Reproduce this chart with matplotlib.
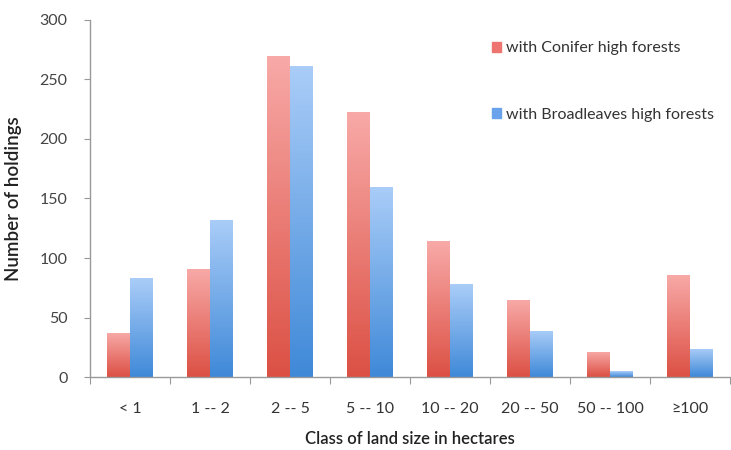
import matplotlib
matplotlib.use("Agg")
import matplotlib.pyplot as plt
import numpy as np
from matplotlib.colors import LinearSegmentedColormap
from matplotlib.patches import Patch

categories = ["< 1", "1 -- 2", "2 -- 5", "5 -- 10", "10 -- 20", "20 -- 50", "50 -- 100", "\u2265100"]
conifer = [37, 91, 270, 223, 114, 65, 21, 86]
broadleaves = [83, 132, 261, 160, 78, 39, 5, 24]

plt.rcParams['font.family'] = ['Lato', 'DejaVu Sans']

red_map = LinearSegmentedColormap.from_list("red", ["#dc5044", "#f8aaa8"])
blue_map = LinearSegmentedColormap.from_list("blue", ["#3f89d8", "#aacdf8"])

fig = plt.figure(figsize=(7.31, 4.5), dpi=100)
ax = fig.add_axes([0.123, 0.162, 0.876, 0.794])

x = np.arange(len(categories))
w = 0.285
grad = np.linspace(0, 1, 256).reshape(-1, 1)


def gradient_bars(xs, values, cmap):
    bars = ax.bar(xs, values, width=w, color="none", edgecolor="none")
    for b in bars:
        x0, y0 = b.get_x(), b.get_y()
        im = ax.imshow(grad, cmap=cmap, origin="lower", aspect="auto",
                       extent=[x0, x0 + b.get_width(), y0, y0 + b.get_height()],
                       zorder=2)
        im.set_clip_path(b)
    return bars


gradient_bars(x - w / 2, conifer, red_map)
gradient_bars(x + w / 2, broadleaves, blue_map)

ax.set_xlim(-0.5, len(categories) - 0.5)
ax.set_ylim(0, 300)
ax.set_yticks(range(0, 301, 50))

# ticks sit on category boundaries, labels at the centres
ax.set_xticks(np.arange(-0.5, len(categories), 1.0))
ax.set_xticklabels([])
ax.set_xticks(x, minor=True)
ax.set_xticklabels(categories, minor=True)
ax.tick_params(axis="x", which="minor", length=0, pad=18, labelsize=11.5, colors="#333333")
ax.tick_params(axis="x", which="major", length=5, direction="out", color="#999999")
ax.tick_params(axis="y", length=4, direction="out", color="#999999", labelsize=11.5,
               labelcolor="#444444", pad=12)

for s in ["top", "right"]:
    ax.spines[s].set_visible(False)
for s in ["left", "bottom"]:
    ax.spines[s].set_color("#999999")
    ax.spines[s].set_linewidth(1.0)

ax.set_xlabel("Class of land size in hectares", fontsize=12, fontweight="semibold",
              color="#222222", labelpad=11)
ax.set_ylabel("Number of holdings", fontsize=13.5, fontweight="semibold",
              color="#222222", labelpad=13)

handles = [Patch(color="#ee7470"), Patch(color="#6aa2ec")]
ax.legend(handles, ["with Conifer high forests", "with Broadleaves high forests"],
          loc="upper left", bbox_to_anchor=(0.605, 0.98), frameon=False,
          fontsize=11.5, handlelength=0.6, handleheight=0.6, handletextpad=0.3,
          labelspacing=3.3, labelcolor="#333333")

fig.savefig("out.png", dpi=100)
